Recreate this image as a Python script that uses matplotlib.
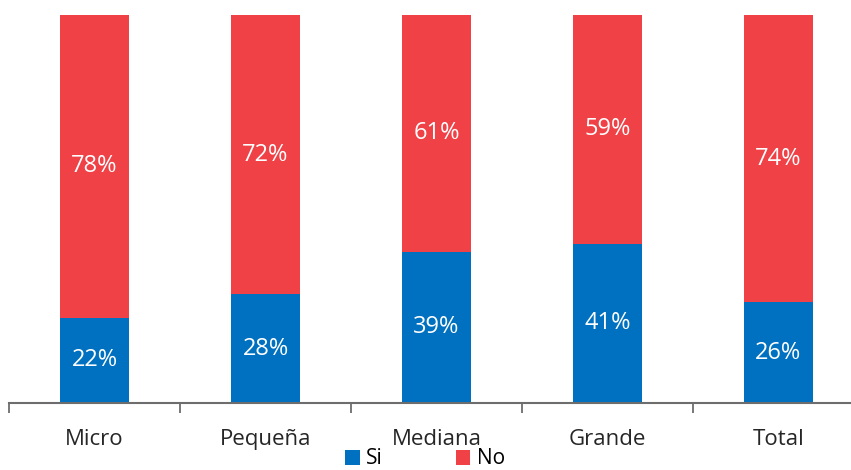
import matplotlib
matplotlib.use('Agg')
import matplotlib.pyplot as plt
import numpy as np

categories = ['Micro', 'Pequeña', 'Mediana', 'Grande', 'Total']
si_values = [22, 28, 39, 41, 26]
no_values = [78, 72, 61, 59, 74]

blue = '#0070c0'
red = '#ef4146'

plt.rcParams['font.family'] = ['Open Sans', 'DejaVu Sans']

fig = plt.figure(figsize=(8.51, 4.70), dpi=100)
# axis spans past the right edge, like the original
ax = fig.add_axes([9 / 851, 67 / 470, 855 / 851, 388 / 470])

x = np.arange(len(categories))
w = 0.4
bars_si = ax.bar(x, si_values, w, color=blue, label='Si')
bars_no = ax.bar(x, no_values, w, bottom=si_values, color=red, label='No')

for i in range(len(categories)):
    ax.text(x[i], si_values[i] / 2, f'{si_values[i]}%', ha='center', va='center',
            color='white', fontsize=17)
    ax.text(x[i], si_values[i] + no_values[i] / 2, f'{no_values[i]}%', ha='center',
            va='center', color='white', fontsize=17)

ax.set_xlim(-0.5, len(categories) - 0.5)
ax.set_ylim(0, 100)

for s in ['left', 'right', 'top']:
    ax.spines[s].set_visible(False)
ax.spines['bottom'].set_color('#6d6d6d')
ax.spines['bottom'].set_linewidth(1.5)
ax.set_yticks([])

ax.set_xticks(x)
ax.set_xticklabels(categories, fontsize=16, color='#262626')
ax.tick_params(axis='x', which='major', length=0, pad=19)
ax.set_xticks(np.arange(len(categories)) - 0.5, minor=True)
ax.tick_params(axis='x', which='minor', length=7, width=1.3, color='#6d6d6d')

fig.legend(handles=[bars_si, bars_no], labels=['Si', 'No'], loc='center',
           bbox_to_anchor=(425 / 851, 11 / 470), ncol=2, frameon=False,
           fontsize=15, handlelength=0.7, handleheight=0.7, handletextpad=0.3,
           columnspacing=3.5, borderaxespad=0, borderpad=0)

fig.savefig('out.png', dpi=100)
